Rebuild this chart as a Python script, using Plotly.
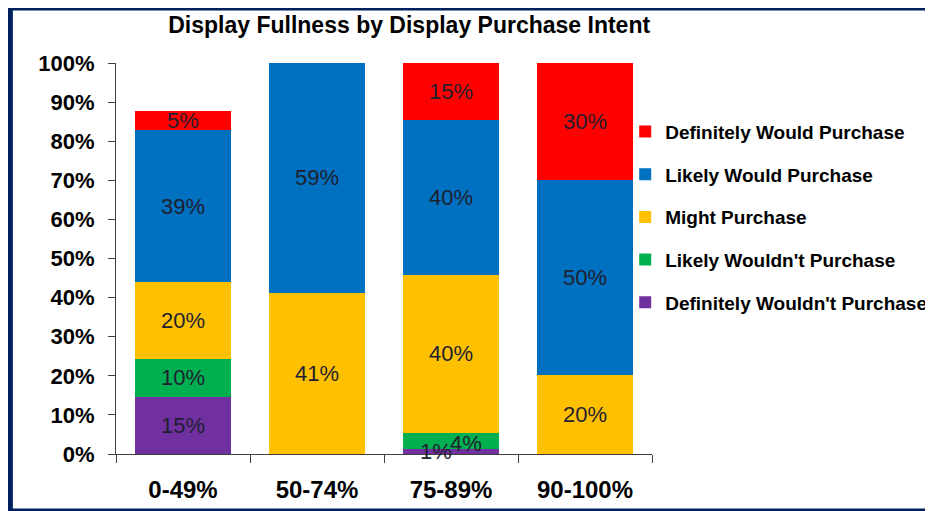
import plotly.graph_objects as go

# ── data (% of displays) ──────────────────────────────────────────────────────
CATEGORIES = ["0-49%", "50-74%", "75-89%", "90-100%"]

def_wouldnt    = [14.6, 0.0, 1.3, 0.0]
likely_wouldnt = [9.8, 0.0, 4.1, 0.0]
might          = [19.6, 41.2, 40.4, 20.2]
likely_would   = [38.8, 58.8, 39.6, 49.8]
def_would      = [4.9, 0.0, 14.6, 30.0]

SERIES = [
    ("Definitely Wouldn't Purchase", def_wouldnt, "#7030A0"),
    ("Likely Wouldn't Purchase", likely_wouldnt, "#00B050"),
    ("Might Purchase", might, "#FFC000"),
    ("Likely Would Purchase", likely_would, "#0070C0"),
    ("Definitely Would Purchase", def_would, "#FF0000"),
]

FONT = "Liberation Sans, Arial, sans-serif"
LABEL_COLOR = "#1F1F2F"
FRAME = "#002060"
SMALL = 4.5  # segments thinner than this get an offset annotation instead

fig = go.Figure()
base = [0.0] * len(CATEGORIES)
small_labels = []
for k, (name, vals, color) in enumerate(SERIES):
    text = []
    for i, v in enumerate(vals):
        if v <= 0:
            text.append("")
        elif v < SMALL:
            text.append("")
            small_labels.append((CATEGORIES[i], base[i] + v / 2, f"{v:.0f}%", name))
        else:
            text.append(f"{v:.0f}%")
        base[i] += v
    fig.add_trace(go.Bar(
        x=CATEGORIES, y=vals, name=name, legendgroup=name,
        legendrank=len(SERIES) - k,  # top of the stack first in the legend
        marker=dict(color=color, line=dict(width=0)),
        text=text, textposition="inside", insidetextanchor="middle",
        textangle=0, constraintext="none",
        textfont=dict(family=FONT, size=22, color=LABEL_COLOR),
        hovertemplate=f"<b>{name}</b><br>%{{x}}: %{{y:.0f}}%<extra></extra>",
    ))

# tiny segments in the 75-89% bar: labels pushed left / right like the original
shifts = {"Definitely Wouldn't Purchase": (-15, 0), "Likely Wouldn't Purchase": (15, -3)}
annotations = []
for cat, ymid, txt, name in small_labels:
    dx, dy = shifts.get(name, (0, 0))
    annotations.append(dict(
        x=cat, y=ymid, xref="x", yref="y", text=txt, showarrow=False,
        xshift=dx, yshift=dy,
        font=dict(family=FONT, size=22, color=LABEL_COLOR),
    ))

fig.update_layout(
    width=933, height=511,
    barmode="stack", bargap=0.28,
    paper_bgcolor="white", plot_bgcolor="white",
    margin=dict(l=108, r=289, t=55, b=65, autoexpand=False),
    uniformtext=dict(minsize=22, mode="show"),
    title=dict(
        text="<b>Display Fullness by Display Purchase Intent</b>",
        x=0.430, xref="container", xanchor="center",
        y=0.967, yref="container", yanchor="middle",
        font=dict(family=FONT, size=23, color="black"),
    ),
    xaxis=dict(
        showline=True, linecolor="#404040", linewidth=1,
        ticks="outside", tickson="boundaries", ticklen=8, tickcolor="#404040",
        ticklabelstandoff=14,
        tickfont=dict(family=FONT, size=24, color="black", weight="bold"),
        showgrid=False, automargin=False,
    ),
    yaxis=dict(
        range=[0, 100], dtick=10, ticksuffix="%",
        showline=True, linecolor="#404040", linewidth=1,
        ticks="outside", ticklen=7, tickcolor="#404040",
        ticklabelstandoff=9,
        tickfont=dict(family=FONT, size=22, color="black", weight="bold"),
        showgrid=False, zeroline=False, automargin=False,
    ),
    legend=dict(
        x=0.95, xanchor="left", y=0.873, yanchor="top",
        traceorder="grouped", tracegroupgap=15,
        font=dict(family=FONT, size=19, color="black", weight="bold"),
        itemwidth=30, bgcolor="rgba(0,0,0,0)",
    ),
    showlegend=True,
    annotations=annotations,
    shapes=[dict(
        type="rect", xref="paper", yref="paper",
        x0=-0.198, x1=1.6, y0=-0.147, y1=1.142,
        line=dict(color=FRAME, width=6), fillcolor="rgba(0,0,0,0)",
        layer="above",
    )],
)

fig.write_html("out.html")
